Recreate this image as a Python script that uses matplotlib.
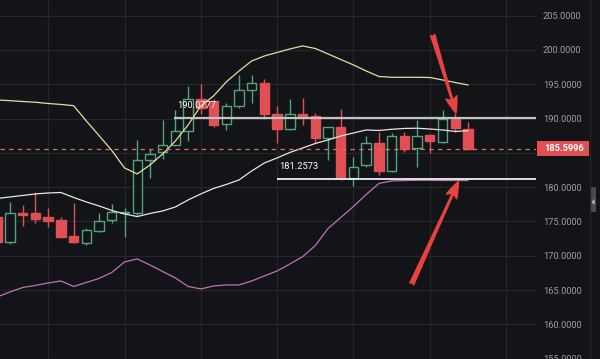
import matplotlib
matplotlib.use('Agg')
import matplotlib.pyplot as plt
import matplotlib.transforms as mtransforms
import numpy as np
from matplotlib.lines import Line2D
from matplotlib.patches import FancyArrowPatch, Polygon, Rectangle
from matplotlib.ticker import FuncFormatter

plt.rcParams['font.family'] = ['Roboto', 'DejaVu Sans']

# candle data (one entry per bar, oldest first)
opens = [175.7, 172.0, 176.2, 176.2, 175.6, 175.2, 172.9, 171.9, 173.6, 175.2,
         176.2, 176.2, 184.0, 185.1, 186.1, 188.2, 192.9, 192.5, 189.2, 191.8,
         194.2, 195.2, 190.6, 188.5, 190.7, 190.4, 187.2, 188.8, 181.3, 183.3,
         186.45, 182.3, 187.5, 185.7, 187.6, 186.6, 190.0, 188.5]
highs = [176.0, 177.9, 177.4, 179.3, 177.0, 175.7, 177.7, 174.1, 176.3, 177.5,
         177.0, 186.9, 185.6, 189.85, 191.3, 194.7, 195.0, 192.8, 192.3, 196.4,
         196.4, 195.7, 191.8, 192.9, 193.0, 190.8, 188.8, 191.4, 184.4, 187.4,
         188.1, 187.9, 188.1, 189.75, 187.7, 191.2, 190.8, 189.46]
lows = [171.8, 171.7, 174.3, 174.8, 174.2, 172.6, 171.9, 171.6, 173.4, 174.8,
        172.8, 175.9, 181.3, 184.1, 186.0, 186.7, 190.6, 188.7, 188.4, 191.6,
        192.3, 190.0, 186.4, 188.3, 189.1, 186.4, 184.0, 181.1, 180.2, 183.0,
        181.7, 182.2, 185.1, 183.0, 185.0, 186.5, 188.1, 185.5996]
closes = [172.0, 176.2, 175.9, 175.3, 175.0, 172.8, 172.0, 173.7, 175.0, 176.4,
          176.4, 184.0, 184.8, 186.1, 188.2, 192.9, 191.6, 189.1, 191.8, 194.1,
          195.2, 190.6, 188.5, 190.7, 190.25, 187.2, 188.7, 181.3, 182.9, 186.5,
          182.4, 187.5, 185.5, 187.5, 186.7, 190.0, 188.6, 185.5996]

# bollinger bands
upper_band = [192.71, 192.61, 192.49, 192.38, 192.20, 192.06, 191.88, 189.65, 187.52, 185.35,
              182.80, 181.92, 183.23, 184.84, 186.73, 189.07, 191.84, 193.30, 195.34, 196.94,
              198.40, 199.13, 199.64, 200.15, 200.59, 200.22, 199.42, 198.62, 197.82, 196.94,
              196.14, 196.02, 196.02, 196.02, 195.99, 195.63, 195.26, 194.90]
middle_band = [178.35, 178.57, 178.79, 179.01, 179.15, 179.22, 178.50, 177.84, 177.26, 176.60,
               176.09, 175.71, 176.16, 176.53, 177.11, 178.13, 179.01, 179.81, 180.39, 181.05,
               182.36, 183.53, 184.26, 185.06, 185.71, 186.37, 186.88, 187.46, 187.90, 188.34,
               188.26, 188.44, 188.56, 188.59, 188.48, 188.34, 188.12, 188.24]
lower_band = [163.99, 164.72, 165.37, 165.67, 166.03, 166.32, 165.52, 166.10, 166.69, 167.56,
              169.09, 169.53, 168.65, 167.70, 166.76, 165.52, 165.16, 165.59, 165.74, 165.74,
              166.32, 167.05, 167.78, 168.80, 169.86, 171.49, 173.97, 175.57, 177.18, 178.93,
              180.54, 180.90, 180.97, 181.00, 181.00, 180.97, 180.97, 180.97]

y_ticks = [155, 160, 165, 170, 175, 180, 185, 190, 195, 200, 205]
last_price = 185.5996
resistance = 190.0777
support = 181.2573

BG = '#131418'
GRID = '#25272c'
UP = '#52a383'
DOWN = '#e04f54'
ARROW = '#ea423f'

fig = plt.figure(figsize=(6, 3.59), dpi=100)
fig.patch.set_facecolor(BG)
ax = fig.add_axes([0, 0, 536 / 600, 1])
ax.set_facecolor(BG)

x = np.arange(len(opens))
o = np.array(opens)
c = np.array(closes)
rising = c >= o
edge = np.where(rising, UP, DOWN)
face = np.where(rising, BG, DOWN)

ax.vlines(x, lows, highs, colors=edge, lw=1, zorder=2)
bottoms = np.minimum(o, c)
heights = np.maximum(np.abs(c - o), 0.15)
ax.bar(x, heights, bottom=bottoms, width=0.74, color=face, edgecolor=edge,
       linewidth=1, zorder=3)

ax.plot(x, upper_band, color='#e2df9e', lw=0.9, zorder=4)
ax.plot(x, middle_band, color='#e6e6e6', lw=0.9, zorder=4)
ax.plot(x, lower_band, color='#c072b6', lw=0.9, zorder=4)

ax.set_xlim(0.212, 42.35)
ax.set_ylim(154.94, 207.29)

# key levels
ax.hlines(resistance, 13.9, 42.35, color='#c2c2c2', lw=1.6, zorder=5)
ax.hlines(support, 22.0, 42.35, color='#f0f0f0', lw=1.3, zorder=5)
ax.axhline(last_price, color='#dd6f69', lw=0.9, ls=(0, (3.5, 3.5)), zorder=5)
ax.text(14.13, 191.88, '190.0777', color='white', fontsize=6.7, ha='left',
        va='center', zorder=6)
ax.text(22.15, 182.94, '181.2573', color='white', fontsize=6.7, ha='left',
        va='center', zorder=6)

# red arrows
for start, end in [((34.23, 202.19), (36.06, 190.82)),
                   ((32.58, 165.88), (36.24, 180.80))]:
    arr = FancyArrowPatch(start, end,
                          arrowstyle='fancy,head_length=1.3,head_width=0.9,tail_width=0.35',
                          mutation_scale=9, color=ARROW, shrinkA=0, shrinkB=0,
                          zorder=7)
    ax.add_patch(arr)


def price_label(v, pos):
    # the 185 label sits under the current price tag
    if abs(v - 185) < 1e-6:
        return ''
    return '%.4f' % v


# grid and axis
ax.set_yticks(y_ticks)
ax.set_xticks([4, 10, 16, 22, 28, 34, 40])
ax.grid(color=GRID, lw=0.8)
ax.set_axisbelow(True)
ax.tick_params(axis='x', length=0, labelbottom=False)
ax.yaxis.tick_right()
ax.yaxis.set_major_formatter(FuncFormatter(price_label))
ax.tick_params(axis='y', length=0, pad=5, labelsize=6.7, labelcolor='#9a9ea6')
for s in ax.spines.values():
    s.set_visible(False)

# current price tag
trans = mtransforms.blended_transform_factory(ax.transAxes, ax.transData)
ax.add_patch(Rectangle((1.001, last_price - 1.09), 52.3 / 536, 2.19,
                       transform=trans, facecolor='#e05050', edgecolor='none',
                       clip_on=False, zorder=8))
ax.text(544 / 536, last_price, '%.4f' % last_price, transform=trans,
        color='white', fontsize=6.7, fontweight='bold', ha='left',
        va='center', zorder=9, clip_on=False)

# right scrollbar strip
fig.add_artist(Line2D([589.5 / 600] * 2, [0, 1], color='#22242a', lw=1,
                      transform=fig.transFigure))
fig.add_artist(Rectangle((590 / 600, (359 - 212) / 359), 6 / 600, 25 / 359,
                         transform=fig.transFigure, facecolor='#474a52',
                         edgecolor='none'))
fig.add_artist(Polygon([(594.5 / 600, (359 - 199) / 359),
                        (594.5 / 600, (359 - 205) / 359),
                        (591.5 / 600, (359 - 202) / 359)],
                       closed=True, transform=fig.transFigure,
                       facecolor='#b8bac0', edgecolor='none'))

fig.savefig('out.png', dpi=100, facecolor=BG)
